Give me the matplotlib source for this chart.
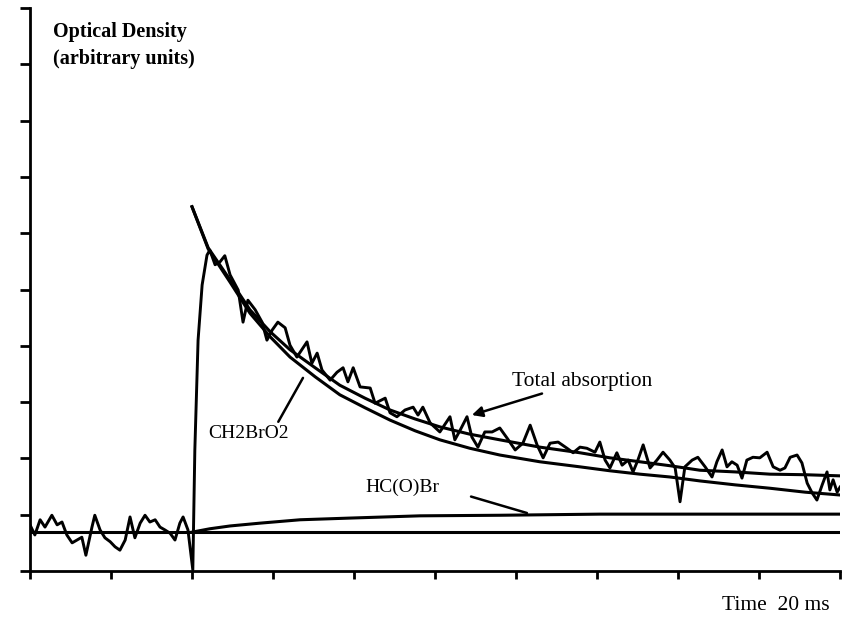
import numpy as np
import matplotlib
matplotlib.use("Agg")
import matplotlib.pyplot as plt

# datos (tiempo en ms, densidad optica en unidades arbitrarias)
t_senal = [0.00, 0.12, 0.25, 0.37, 0.54, 0.67, 0.79, 0.91, 1.04, 1.16, 1.28, 1.38,
           1.53, 1.60, 1.73, 1.85, 1.98, 2.10, 2.22, 2.35, 2.47, 2.59, 2.72, 2.84,
           2.96, 3.09, 3.21, 3.33, 3.46, 3.58, 3.70, 3.78, 3.90, 4.02,
           4.07, 4.15, 4.25, 4.37, 4.44, 4.57, 4.69, 4.81, 4.94, 5.14, 5.26, 5.38,
           5.56, 5.73, 5.85, 5.98, 6.12, 6.30, 6.42, 6.59, 6.84, 6.96, 7.09, 7.21,
           7.41, 7.58, 7.73, 7.85, 7.98, 8.15, 8.40, 8.52, 8.77, 8.89, 9.06, 9.26,
           9.46, 9.58, 9.70, 9.88, 10.12, 10.37, 10.49, 10.62, 10.79, 10.91, 11.06,
           11.23, 11.41, 11.60, 11.78, 11.98, 12.17, 12.35, 12.52, 12.67, 12.84,
           13.04, 13.26, 13.41, 13.58, 13.75, 13.95, 14.07, 14.20, 14.32, 14.49,
           14.62, 14.77, 14.89, 15.01, 15.14, 15.31, 15.48, 15.63, 15.80, 15.93,
           16.05, 16.17, 16.35, 16.49, 16.67, 16.84, 16.96, 17.09, 17.21, 17.33,
           17.46, 17.58, 17.70, 17.85, 18.02, 18.20, 18.35, 18.52, 18.64, 18.77,
           18.94, 19.06, 19.19, 19.31, 19.43, 19.56, 19.68, 19.75, 19.83, 19.93, 20.00]
od_senal = [0.82, 0.64, 0.91, 0.78, 0.99, 0.82, 0.87, 0.64, 0.50, 0.55, 0.60, 0.28,
            0.78, 0.99, 0.73, 0.59, 0.52, 0.43, 0.37, 0.55, 0.96, 0.59, 0.85, 0.99,
            0.87, 0.91, 0.78, 0.73, 0.67, 0.55, 0.85, 0.96, 0.73, 0.02,
            2.15, 4.10, 5.08, 5.61, 5.70, 5.44, 5.49, 5.60, 5.26, 4.99, 4.42, 4.81,
            4.64, 4.42, 4.10, 4.28, 4.42, 4.32, 4.01, 3.80, 4.07, 3.69, 3.87, 3.57,
            3.39, 3.53, 3.61, 3.36, 3.61, 3.27, 3.25, 2.98, 3.07, 2.81, 2.74, 2.86,
            2.91, 2.77, 2.91, 2.63, 2.47, 2.74, 2.33, 2.50, 2.74, 2.38, 2.20,
            2.47, 2.47, 2.54, 2.36, 2.15, 2.27, 2.59, 2.24, 2.01, 2.27,
            2.29, 2.18, 2.10, 2.20, 2.18, 2.11, 2.29, 1.97, 1.83, 2.10,
            1.88, 1.97, 1.76, 1.97, 2.24, 1.83, 1.97, 2.11, 1.97, 1.83,
            1.23, 1.85, 1.97, 2.02, 1.85, 1.67, 1.94, 2.15, 1.85, 1.94,
            1.88, 1.65, 1.97, 2.02, 2.01, 2.11, 1.85, 1.79, 1.83, 2.02,
            2.06, 1.92, 1.56, 1.39, 1.26, 1.53, 1.76, 1.44, 1.62, 1.40, 1.49]

# ajustes
t_ajuste = [4.00, 4.40, 4.94, 5.43, 5.93, 6.42, 7.04, 7.65, 8.27, 8.89, 9.51, 10.12,
            10.86, 11.60, 12.59, 13.58, 14.32, 15.06, 15.80, 16.54, 17.41, 18.27,
            19.14, 20.00]
od_total = [6.47, 5.74, 5.17, 4.64, 4.25, 3.93, 3.61, 3.30, 3.07, 2.86, 2.70, 2.56,
            2.43, 2.33, 2.20, 2.10, 2.01, 1.94, 1.87, 1.79, 1.76, 1.72, 1.71, 1.69]
od_ch2bro2 = [6.47, 5.72, 5.13, 4.58, 4.16, 3.80, 3.45, 3.13, 2.90, 2.68, 2.49, 2.33,
              2.18, 2.06, 1.94, 1.85, 1.78, 1.72, 1.67, 1.60, 1.53, 1.47, 1.40, 1.35]

t_hcobr = [4.00, 4.44, 4.94, 5.68, 6.67, 7.90, 9.63, 11.60, 14.07, 16.54, 20.00]
od_hcobr = [0.69, 0.75, 0.80, 0.85, 0.91, 0.94, 0.98, 0.99, 1.01, 1.01, 1.01]

t_base = [0.0, 20.0]
od_base = [0.69, 0.69]

plt.rcParams['font.family'] = ['Liberation Serif', 'DejaVu Serif']

fig = plt.figure(figsize=(8.46, 6.2), dpi=100)
ax = fig.add_axes([30/846, 49/620, 810/846, 563/620])

ax.plot(t_base, od_base, color='black', lw=2.2)
ax.plot(t_hcobr, od_hcobr, color='black', lw=2.2)
ax.plot(t_ajuste, od_total, color='black', lw=2.2)
ax.plot(t_ajuste, od_ch2bro2, color='black', lw=2.2)
ax.plot(t_senal, od_senal, color='black', lw=2.1)

ax.set_xlim(0, 20)
ax.set_ylim(0, 10)
ax.set_xticks(np.arange(0, 21, 2))
ax.set_yticks(np.arange(0, 11, 1))
ax.tick_params(axis='both', direction='out', width=2, labelleft=False, labelbottom=False)
ax.tick_params(axis='y', length=7)
ax.tick_params(axis='x', length=6)
for s in ['top', 'right']:
    ax.spines[s].set_visible(False)
for s in ['left', 'bottom']:
    ax.spines[s].set_linewidth(2)

# etiquetas
fig.text(53/846, 1 - 22/620, "Optical Density\n(arbitrary units)", fontsize=14.5,
         fontweight='bold', va='top', ha='left', linespacing=1.45)
fig.text(830/846, 1 - 605/620, "Time  20 ms", fontsize=15.5, ha='right', va='center')

ax.annotate("Total absorption", xy=(10.91, 2.77), xytext=(11.9, 3.37), fontsize=15.5,
            va='center', ha='left',
            arrowprops=dict(arrowstyle='-|>', color='black', lw=1.8, shrinkA=0, shrinkB=0))
ax.annotate("CH2BrO2", xy=(6.74, 3.43), xytext=(4.4, 2.45), fontsize=14,
            va='center', ha='left',
            arrowprops=dict(arrowstyle='-', color='black', lw=1.8, shrinkA=0, shrinkB=0,
                            relpos=(0.85, 1.0)))
ax.annotate("HC(O)Br", xy=(12.27, 1.03), xytext=(8.27, 1.49), fontsize=14,
            va='center', ha='left',
            arrowprops=dict(arrowstyle='-', color='black', lw=1.8, shrinkA=22, shrinkB=0,
                            relpos=(1.0, 0.5)))

fig.savefig("out.png", dpi=100)
